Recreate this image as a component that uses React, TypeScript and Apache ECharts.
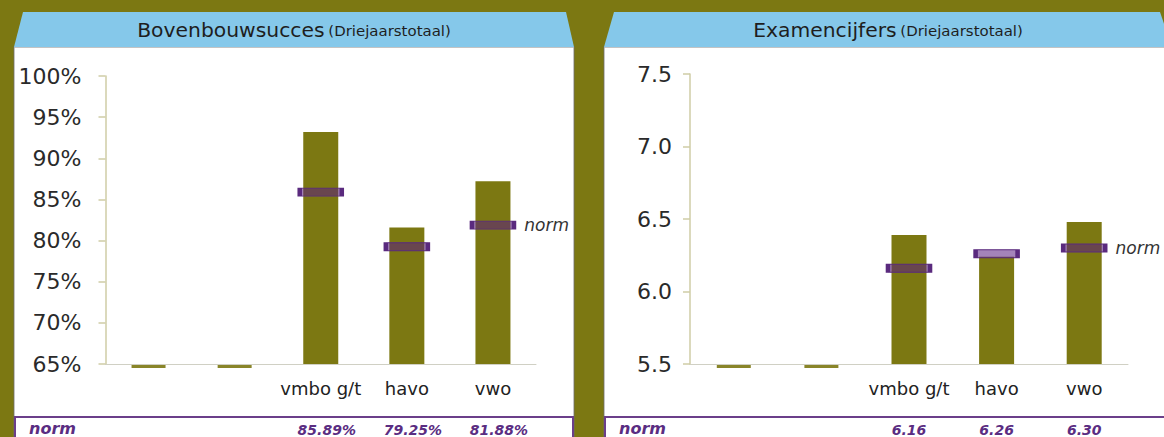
import React, { useEffect, useRef } from "react";
import * as echarts from "echarts";

const categories = ["", "", "vmbo g/t", "havo", "vwo"];

const successTitle = "Bovenbouwsucces";
const gradeTitle = "Examencijfers";
const subTitle = "(Driejaarstotaal)";
const normLabel = "norm";

const successValues: (number | null)[] = [null, null, 93.2, 81.6, 87.2];
const successNorms: (number | null)[] = [null, null, 85.89, 79.25, 81.88];
const successMin = 65;
const successMax = 100;
const successStep = 5;

const gradeValues: (number | null)[] = [null, null, 6.39, 6.24, 6.48];
const gradeNorms: (number | null)[] = [null, null, 6.16, 6.26, 6.3];
const gradeMin = 5.5;
const gradeMax = 7.5;
const gradeStep = 0.5;

const OLIVE = "#7c7812";
const HEADER = "#85c8ea";
const PURPLE = "#5a2d82";
const AXIS = "#cfcca6";
const FONT = "DejaVu Sans";

function panelSeries(idx: number, values: (number | null)[], norms: (number | null)[], min: number) {
  const lastNorm = norms.reduce((acc: number, v, i) => (v != null ? i : acc), -1);
  return [
    {
      type: "bar",
      xAxisIndex: idx * 2,
      yAxisIndex: idx,
      data: values.map((v) => (v == null ? "-" : v)),
      barWidth: 35,
      itemStyle: { color: OLIVE },
      z: 4,
    },
    {
      type: "scatter",
      xAxisIndex: idx * 2,
      yAxisIndex: idx,
      data: values.map((v) => (v == null ? min : "-")),
      symbol: "rect",
      symbolSize: [34, 3],
      symbolOffset: [0, 2.5],
      itemStyle: { color: OLIVE, opacity: 0.9 },
      silent: true,
      z: 4,
    },
    {
      type: "scatter",
      xAxisIndex: idx * 2,
      yAxisIndex: idx,
      data: norms.map((v, i) =>
        v == null
          ? "-"
          : i === lastNorm
          ? { value: v, label: { show: true } }
          : v
      ),
      symbol: "rect",
      symbolSize: [42, 8],
      itemStyle: { color: "rgba(90,30,130,0.55)", borderColor: "#5a2a7e", borderWidth: 2, opacity: 1 },
      label: {
        show: false,
        position: "right",
        distance: 8,
        formatter: () => normLabel,
        fontFamily: FONT,
        fontStyle: "italic",
        fontSize: 17,
        color: "#333",
      },
      z: 6,
    },
  ];
}

function xAxes(idx: number, norms: (number | null)[], fmt: (v: number) => string) {
  return [
    {
      type: "category",
      gridIndex: idx,
      data: categories,
      axisLine: { show: true, lineStyle: { color: "#d0d0c4", width: 1 } },
      axisTick: { show: false },
      axisLabel: { interval: 0, color: "#222", fontSize: 18, fontFamily: FONT, margin: 15 },
      z: 3,
    },
    {
      type: "category",
      gridIndex: idx,
      data: categories,
      position: "bottom",
      offset: 51,
      axisLine: { show: false },
      axisTick: { show: false },
      axisLabel: {
        interval: 0,
        margin: 8,
        formatter: (_v: string, i: number) => (norms[i] == null ? "" : fmt(norms[i] as number)),
        fontSize: 14,
        fontWeight: "bold",
        fontStyle: "italic",
        fontFamily: FONT,
        color: PURPLE,
        padding: idx === 0 ? [0, 0, 0, 12] : 0,
      },
      z: 3,
    },
  ];
}

function yAxis(idx: number, min: number, max: number, step: number, fmt: (v: number) => string, margin: number) {
  return {
    type: "value",
    gridIndex: idx,
    min,
    max,
    interval: step,
    axisLine: { show: true, lineStyle: { color: AXIS, width: 1.5 } },
    axisTick: { show: true, length: 7, lineStyle: { color: AXIS, width: 1.5 } },
    splitLine: { show: false },
    axisLabel: { formatter: fmt, fontSize: 22, fontFamily: FONT, color: "#2a2a2a", margin },
    z: 3,
  };
}

function panelGraphics(x0: number, x1: number, topInset: number, rightTop: number, title: string) {
  const cx = (x0 + x1) / 2;
  return [
    {
      type: "rect",
      z: 0,
      shape: { x: x0, y: 47, width: x1 - x0, height: 400 },
      style: { fill: "#ffffff", stroke: "rgba(110,110,110,0.55)", lineWidth: 1.5 },
    },
    {
      type: "polygon",
      z: 0,
      shape: {
        points: [
          [x0 + topInset, 12],
          [rightTop, 12],
          [x1, 47],
          [x0, 47],
        ],
      },
      style: { fill: HEADER },
    },
    {
      type: "text",
      z: 1,
      x: cx,
      y: 31,
      scaleX: 1.07,
      style: {
        text: `{a|${title}} {b|${subTitle}}`,
        x: 0,
        y: 0,
        align: "center",
        verticalAlign: "middle",
        rich: {
          a: { fontFamily: FONT, fontSize: 19, fill: "#1e1e1e", color: "#1e1e1e" },
          b: { fontFamily: FONT, fontSize: 14, fill: "#1e1e1e", color: "#1e1e1e" },
        },
      },
    },
    {
      type: "rect",
      z: 1,
      shape: { x: x0 + 1, y: 417, width: x1 - x0 - 2, height: 40 },
      style: { fill: "none", stroke: "#6b3f8a", lineWidth: 2 },
    },
    {
      type: "text",
      z: 1,
      style: {
        text: normLabel,
        x: x0 + 15,
        y: 428,
        verticalAlign: "middle",
        fontFamily: FONT,
        fontSize: 16,
        fontWeight: "bold",
        fontStyle: "italic",
        fill: PURPLE,
      },
    },
  ];
}

export default function App() {
  const ref = useRef<HTMLDivElement>(null);
  useEffect(() => {
    if (!ref.current) return;
    const chart = echarts.init(ref.current, null, { renderer: "svg" });
    chart.setOption({
      animation: false,
      backgroundColor: OLIVE,
      grid: [
        { left: 105.5, top: 76, width: 430.5, height: 289 },
        { left: 690, top: 74, width: 438, height: 293 },
      ],
      xAxis: [
        ...xAxes(0, successNorms, (v) => v.toFixed(2) + "%"),
        ...xAxes(1, gradeNorms, (v) => v.toFixed(2)),
      ],
      yAxis: [
        yAxis(0, successMin, successMax, successStep, (v) => `${v}%`, 24),
        yAxis(1, gradeMin, gradeMax, gradeStep, (v) => v.toFixed(1), 18),
      ],
      series: [
        ...panelSeries(0, successValues, successNorms, successMin),
        ...panelSeries(1, gradeValues, gradeNorms, gradeMin),
      ],
      graphic: [
        ...panelGraphics(14, 574, 9, 566, successTitle),
        ...panelGraphics(604, 1172, 10, 1160, gradeTitle),
      ],
    });
    return () => chart.dispose();
  }, []);
  return <div ref={ref} style={{ position: "fixed", left: 0, top: 0, width: 1164, height: 437 }} />;
}
